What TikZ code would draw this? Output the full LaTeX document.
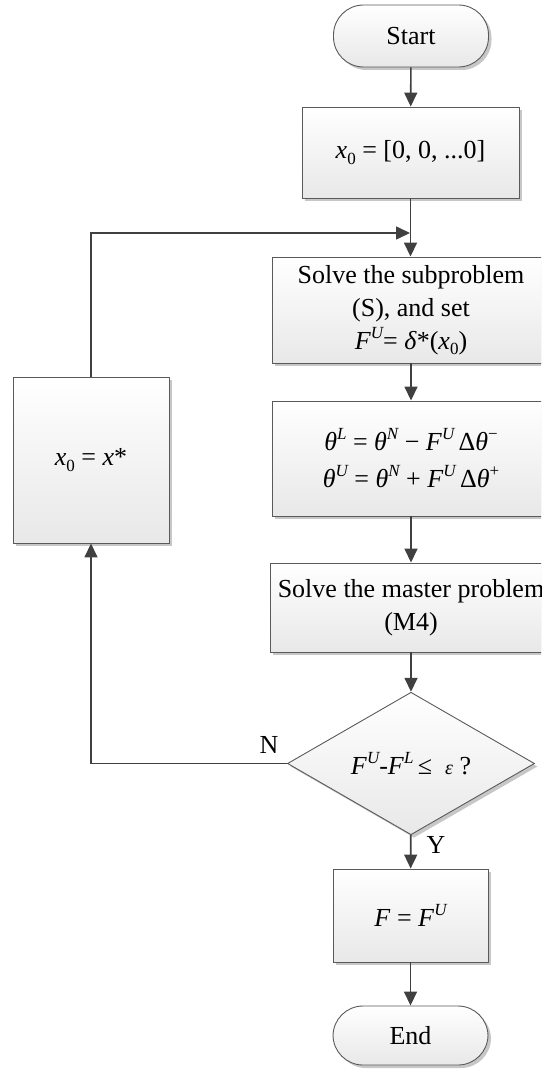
\documentclass[tikz,border=0pt]{standalone}
\usepackage{fontspec}
\setmainfont{Liberation Serif}
\usetikzlibrary{arrows.meta,shapes.geometric,shadows}
\newcommand\hi[1]{\raisebox{0.42em}{\fontsize{17}{17}\selectfont\itshape #1}}
\newcommand\hu[1]{\raisebox{0.42em}{\fontsize{17}{17}\selectfont #1}}
\newcommand\lo[1]{\raisebox{-0.2em}{\fontsize{17}{17}\selectfont #1}}
\definecolor{edge}{HTML}{5A5A5A}
\definecolor{arr}{HTML}{404040}
\tikzset{
  every node/.style={font=\fontsize{26}{33}\selectfont},
  blk/.style={draw=edge, line width=0.9pt, rectangle, inner sep=0pt, align=center,
    top color=white, bottom color=black!9,
    drop shadow={shadow xshift=3pt, shadow yshift=-3pt, opacity=0.22, fill=black}},
  term/.style={blk, rounded corners=30pt},
  decis/.style={blk, diamond, minimum width=247pt, minimum height=123pt},
  flow/.style={draw=arr, line width=1.6pt, -{Triangle[length=14pt,width=13pt]}},
  lbl/.style={font=\fontsize{26}{26}\selectfont, inner sep=0pt}
}
\begin{document}
\begin{tikzpicture}[x=1pt,y=-1pt]
\useasboundingbox (0,0) rectangle (541,1070);
\clip (0,0) rectangle (541,1070);
\node[term, minimum width=155pt, minimum height=62pt] (start) at (411,36) {Start};
\node[blk, minimum width=217pt, minimum height=91pt] (init) at (410.5,152.5) {\textit{x}\lo{0} = [0, 0, ...0]};
\node[blk, minimum width=278pt, minimum height=106pt] (sub) at (411,310) {Solve the subproblem\\(S), and set\\\textit{F}\hi{U}= \textit{δ}*(\textit{x}\lo{0})};
\node[blk, minimum width=278pt, minimum height=115pt, align=center] (theta) at (411,458.5)
  {\textit{θ}\hi{L} = \textit{θ}\hi{N} − \textit{F}\hi{U}\,Δ\textit{θ}\hu{−}\\[4pt]
   \textit{θ}\hi{U} = \textit{θ}\hi{N} + \textit{F}\hi{U}\,Δ\textit{θ}\hu{+}};
\node[blk, minimum width=282pt, minimum height=89pt] (master) at (411,607.5) {Solve the master problem\\(M4)};
\node[decis] (dec) at (411,763.5) {\textit{F}\hi{U}-\textit{F}\hi{L}\,≤\ \ {\fontsize{20}{20}\selectfont\textit{ε}} ?};
\node[blk, minimum width=155pt, minimum height=93pt] (final) at (410.5,915.5) {\textit{F} = \textit{F}\hi{U}};
\node[term, minimum width=155pt, minimum height=59pt] (end) at (410.5,1035.5) {End};
\node[blk, minimum width=156pt, minimum height=166pt] (upd) at (91,460) {\textit{x}\lo{0} = \textit{x}*};
\coordinate (lb) at (91,763.5);
\coordinate (lt) at (91,233);
\coordinate (jn) at (410,233);
\draw[flow] (start) -- (init);
\draw[flow] (init) -- (init.south |- sub.north);
\draw[flow] (sub) -- (sub.south |- theta.north);
\draw[flow] (theta) -- (theta.south |- master.north);
\draw[flow] (master) -- (dec);
\draw[flow] (dec) -- (final);
\draw[flow] (final) -- (end);
\draw[flow] (dec.west) -- (lb) -- (upd.south);
\draw[flow] (upd.north) -- (lt) -- (jn);
\node[lbl] (nl) at (269,745) {N};
\node[lbl] (yl) at (436,845) {Y};
\end{tikzpicture}
\end{document}
